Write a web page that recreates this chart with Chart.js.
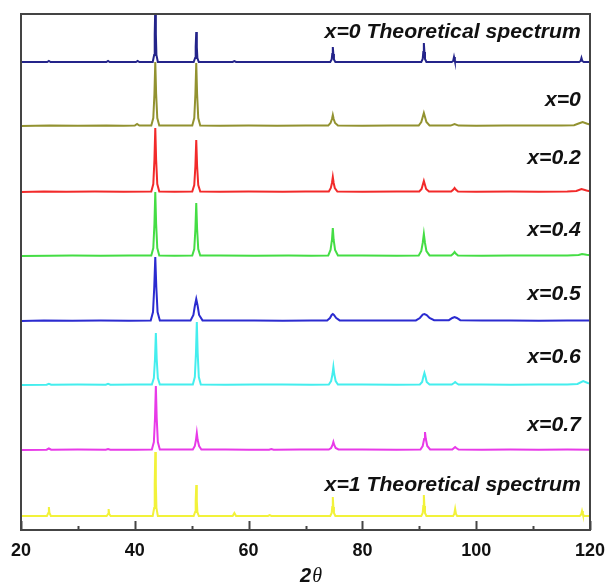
<!DOCTYPE html>
<html>
<head>
<meta charset="utf-8">
<script src="https://cdn.jsdelivr.net/npm/chart.js@4/dist/chart.umd.min.js"></script>
<style>
  html, body { margin: 0; padding: 0; background: #ffffff; }
  #wrap { width: 608px; height: 585px; position: relative; }
</style>
</head>
<body>
<div id="wrap"><canvas id="xrd" width="608" height="585"></canvas></div>
<script>
// ---- data: 2θ positions and relative intensities, one list per pattern ----
const xTicks = [20, 40, 60, 80, 100, 120];
const seriesNames = [
  "x=0 Theoretical spectrum", "x=0", "x=0.2", "x=0.4",
  "x=0.5", "x=0.6", "x=0.7", "x=1 Theoretical spectrum"
];
// vertical stacking offset of each pattern
const offsets = [468, 404, 338, 274, 209, 145, 80, 14];

const theoX0 = [[20,0],[24.6,0],[24.9,1],[25.2,0],[35.0,0],[35.3,1],[35.6,0],[40.2,0],[40.5,1],[40.8,0],
  [43.15,0],[43.4,7],[43.5,28],[43.6,56],[43.7,28],[43.8,7],[44.05,0],
  [50.35,0],[50.6,4],[50.7,15],[50.8,30],[50.9,15],[51.0,4],[51.25,0],
  [57.2,0],[57.5,0.8],[57.8,0],
  [74.35,0],[74.6,2.5],[74.7,8],[74.8,15],[74.9,8],[75.0,2.5],[75.25,0],
  [90.35,0],[90.6,3],[90.7,10],[90.8,19],[90.9,10],[91.0,3],[91.25,0],
  [95.7,0],[95.95,1],[96.1,5],[96.25,1],[96.5,0],
  [118.1,0],[118.35,1],[118.5,4],[118.65,1],[118.9,0],[120,0]];

const measX0 = [[20,0],[25,0.5],[30,0.3],[35,0.6],[38,0.3],[40.0,0.4],[40.4,2],[40.8,0.4],
  [42.9,0.5],[43.25,8],[43.45,32],[43.6,64],[43.75,32],[43.95,8],[44.3,0.5],[47,0.4],
  [50.1,0.5],[50.45,8],[50.65,32],[50.8,63],[50.95,32],[51.15,8],[51.5,0.5],
  [55,0.3],[60,0.5],[65,0.3],[70,0.4],
  [74.0,0.4],[74.4,3],[74.65,7],[74.8,11],[74.95,7],[75.2,3],[75.7,0.5],[80,0.3],[85,0.5],
  [89.9,0.5],[90.35,4],[90.6,9],[90.8,13],[91.0,9],[91.25,4],[91.8,0.6],
  [95.5,0.4],[96.2,2],[96.9,0.4],
  [100,0.3],[105,0.5],[110,0.4],[115,0.6],[117.2,0.8],[118.0,2.5],[118.7,4],[119.4,2.5],[120,1.5]];

const measX02 = [[20,0],[24,0.4],[28,0.2],[33,0.5],[38,0.3],
  [42.9,0.5],[43.25,8],[43.45,32],[43.6,64],[43.75,32],[43.95,8],[44.3,0.5],[47,0.3],
  [50.1,0.5],[50.45,7],[50.65,26],[50.8,52],[50.95,26],[51.15,7],[51.5,0.5],
  [55,0.3],[60,0.5],[66,0.3],[70,0.4],
  [74.1,0.5],[74.45,4],[74.65,9],[74.8,15],[74.95,9],[75.15,4],[75.6,0.5],[80,0.3],[86,0.5],
  [90.0,0.5],[90.4,3],[90.6,7],[90.8,11],[91.0,7],[91.2,3],[91.7,0.6],
  [95.6,0.4],[96.0,2.5],[96.2,4],[96.4,2.5],[96.8,0.5],
  [100,0.3],[106,0.5],[111,0.3],[116,0.6],[117.6,1],[118.5,3],[119.4,1.5],[120,0.8]];

const measX04 = [[20,0],[25,0.3],[29,0.5],[34,0.2],[39,0.4],
  [42.9,0.5],[43.25,8],[43.45,32],[43.6,64],[43.75,32],[43.95,8],[44.3,0.5],[47,0.3],
  [50.1,0.5],[50.45,7],[50.65,27],[50.8,53],[50.95,27],[51.15,7],[51.5,0.5],
  [55,0.4],[61,0.3],[67,0.5],[71,0.3],
  [74.0,0.5],[74.4,6],[74.65,16],[74.8,28],[74.95,16],[75.2,6],[75.7,0.5],[80,0.4],[86,0.3],
  [89.9,0.5],[90.35,5],[90.6,13],[90.8,22],[91.0,13],[91.25,5],[91.8,0.6],
  [95.6,0.5],[96.0,2.5],[96.2,4],[96.4,2.5],[96.8,0.5],
  [101,0.3],[106,0.5],[111,0.4],[116,0.5],[118,1],[118.6,2],[119.4,1.2],[120,0.8]];

const measX05 = [[20,0],[24,0.5],[29,0.3],[34,0.6],[39,0.3],
  [42.8,0.6],[43.2,9],[43.42,34],[43.6,64],[43.78,34],[44.0,9],[44.4,0.6],[47,0.4],
  [49.8,0.6],[50.3,6],[50.55,15],[50.8,22],[51.05,15],[51.3,6],[51.9,0.6],
  [56,0.4],[61,0.5],[66,0.3],[71,0.5],
  [73.8,0.6],[74.3,3],[74.6,6],[74.8,7],[75.0,6],[75.4,3],[76.0,0.6],[80,0.4],[85,0.5],
  [89.4,0.6],[90.1,3],[90.6,6.5],[90.9,7],[91.3,6],[91.8,3],[92.6,0.8],
  [95.2,0.8],[95.8,3],[96.2,4],[96.6,3],[97.2,0.8],
  [101,0.4],[106,0.5],[111,0.3],[116,0.5],[120,0.4]];

const measX06 = [[20,0],[24.5,0.3],[24.9,1.2],[25.3,0.3],[30,0.4],[34.9,0.3],[35.3,1.2],[35.7,0.3],[40,0.4],
  [43.0,0.5],[43.35,7],[43.55,26],[43.7,52],[43.85,26],[44.05,7],[44.4,0.5],[47,0.4],
  [50.2,0.5],[50.55,8],[50.75,32],[50.9,63],[51.05,32],[51.25,8],[51.6,0.5],
  [56,0.3],[61,0.5],[66,0.4],[71,0.3],
  [74.1,0.5],[74.5,4],[74.75,11],[74.9,18],[75.05,11],[75.3,4],[75.7,0.5],[80,0.4],[86,0.3],
  [90.1,0.5],[90.5,3],[90.7,8],[90.9,12],[91.1,8],[91.3,3],[91.8,0.5],
  [95.7,0.4],[96.1,2],[96.3,3],[96.5,2],[96.9,0.5],
  [101,0.4],[106,0.3],[111,0.5],[116,0.4],[117.8,1],[118.8,4],[119.6,2],[120,1.5]];

const measX07 = [[20,0],[24.5,0.3],[24.9,1.5],[25.3,0.3],[30,0.4],[34.9,0.3],[35.3,1],[35.7,0.3],[40,0.3],
  [43.0,0.5],[43.35,8],[43.55,32],[43.7,64],[43.85,32],[44.05,8],[44.4,0.5],[47,0.4],
  [50.2,0.5],[50.55,4],[50.75,10],[50.9,17],[51.05,10],[51.3,4],[51.7,0.5],
  [56,0.4],[60,0.3],[63.6,0.3],[64.0,1],[64.4,0.3],[69,0.4],
  [74.1,0.5],[74.5,2],[74.75,5],[74.9,8],[75.05,5],[75.3,2],[75.8,0.5],[80,0.4],[86,0.3],
  [90.2,0.5],[90.6,4],[90.85,11],[91.0,18],[91.15,11],[91.4,4],[91.9,0.5],
  [95.8,0.4],[96.1,2],[96.3,3],[96.5,2],[96.9,0.4],
  [101,0.3],[106,0.5],[111,0.3],[116,0.4],[120,0.3]];

const theoX1 = [[20,0],[24.55,0],[24.8,3],[24.9,9],[25.0,3],[25.25,0],
  [35.05,0],[35.3,2],[35.4,7],[35.5,2],[35.75,0],
  [43.15,0],[43.4,8],[43.5,32],[43.6,64],[43.7,32],[43.8,8],[44.05,0],
  [50.35,0],[50.6,4],[50.7,15],[50.8,31],[50.9,15],[51.0,4],[51.25,0],
  [57.2,0],[57.5,3],[57.8,0],[63.4,0],[63.7,0.8],[64.0,0],
  [74.35,0],[74.6,3],[74.7,9],[74.8,19],[74.9,9],[75.0,3],[75.25,0],
  [90.35,0],[90.6,3],[90.7,10],[90.8,21],[90.9,10],[91.0,3],[91.25,0],
  [95.95,0],[96.15,2],[96.3,7],[96.45,2],[96.65,0],
  [118.2,0],[118.45,1.5],[118.6,5],[118.75,1.5],[119.0,0],[120,0]];

const patterns = [theoX0, measX0, measX02, measX04, measX05, measX06, measX07, theoX1];

// ---- styling ----
const lineColors = ["#24248a", "#929230", "#f22a2a", "#44dd44", "#2b2bd0", "#44eeee", "#e83ae8", "#f2f23a"];
const labelLift = [30, 26, 34, 26, 27, 28, 25, 31];   // label centre above each baseline

const datasets = patterns.map((pts, i) => ({
  label: seriesNames[i],
  data: pts.map(p => ({ x: p[0], y: p[1] + offsets[i] })),
  borderColor: lineColors[i],
  borderWidth: 2,
  pointRadius: 0,
  tension: 0,
  fill: false
}));

// frame, inward ticks, pattern labels and axis title
const decorations = {
  id: "decorations",
  afterDraw(chart) {
    const { ctx, chartArea: a, scales: { x, y } } = chart;
    ctx.save();
    ctx.strokeStyle = "#444444";
    ctx.lineWidth = 2;
    ctx.strokeRect(a.left, a.top, a.right - a.left, a.bottom - a.top);
    for (let v = 20; v <= 120; v += 10) {
      const px = Math.round(x.getPixelForValue(v)) + 0.5;
      const len = v % 20 === 0 ? 9 : 4;
      ctx.beginPath();
      ctx.moveTo(px, a.bottom);
      ctx.lineTo(px, a.bottom - len);
      ctx.stroke();
    }
    // pattern labels
    ctx.fillStyle = "#111111";
    ctx.font = "italic bold 20px 'Liberation Sans', Arial, sans-serif";
    ctx.textAlign = "right";
    ctx.textBaseline = "middle";
    const rx = x.getPixelForValue(118.4);
    seriesNames.forEach((name, i) => {
      const py = y.getPixelForValue(offsets[i] + labelLift[i]);
      ctx.save();
      ctx.translate(rx, py);
      ctx.scale(1.06, 1);
      ctx.fillText(name, 0, 0);
      ctx.restore();
    });
    // axis title 2θ
    const f1 = "italic bold 20px 'Liberation Sans', Arial, sans-serif";
    const f2 = "italic 20px 'Liberation Serif', 'Times New Roman', serif";
    ctx.textAlign = "left";
    ctx.textBaseline = "alphabetic";
    ctx.font = f1; const w1 = ctx.measureText("2").width;
    ctx.font = f2; const w2 = ctx.measureText("θ").width;
    const cx = (a.left + a.right) / 2 + 5;
    const by = a.bottom + 52;
    ctx.font = f1; ctx.fillText("2", cx - (w1 + w2) / 2, by);
    ctx.font = f2; ctx.fillText("θ", cx - (w1 + w2) / 2 + w1 + 1, by);
    ctx.restore();
  }
};

new Chart(document.getElementById("xrd"), {
  type: "line",
  data: { datasets },
  options: {
    responsive: false,
    animation: false,
    layout: { padding: { left: 21, right: 18, top: 14, bottom: 0 } },
    plugins: { legend: { display: false }, tooltip: { enabled: false } },
    scales: {
      x: {
        type: "linear",
        min: 20, max: 120,
        afterBuildTicks: s => { s.ticks = xTicks.map(v => ({ value: v })); },
        afterFit: s => { s.height = 55; s.paddingLeft = 0; s.paddingRight = 0; },
        grid: { display: false, drawTicks: false },
        border: { display: false },
        ticks: {
          color: "#111111",
          padding: 10,
          maxRotation: 0,
          autoSkip: false,
          font: { family: "'Liberation Sans', Arial, sans-serif", size: 18, weight: "bold" }
        }
      },
      y: { display: false, min: 0, max: 516 }
    }
  },
  plugins: [decorations]
});
</script>
</body>
</html>
